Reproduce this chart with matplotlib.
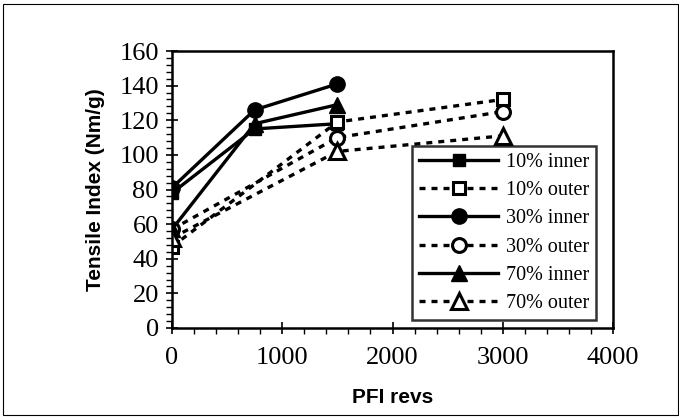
import matplotlib
matplotlib.use("Agg")
import matplotlib.pyplot as plt
from matplotlib.patches import Rectangle
from matplotlib.ticker import MultipleLocator

# PFI revs
x_inner = [0, 750, 1500]
x_outer = [0, 1500, 3000]

# tensile index (Nm/g)
ti_10_inner = [78, 115, 118]
ti_10_outer = [47, 119, 132]
ti_30_inner = [81, 126, 141]
ti_30_outer = [57, 110, 125]
ti_70_inner = [57, 118, 129]
ti_70_outer = [52, 102, 111]

labels = ["10% inner", "10% outer", "30% inner", "30% outer", "70% inner", "70% outer"]

serif = "Liberation Serif"
sans = "Liberation Sans"

fig = plt.figure(figsize=(6.79, 4.20), dpi=100)
ax = fig.add_axes([172 / 679, 1 - 328 / 420, 441 / 679, 277 / 420])

dash = (0, (1.8, 1.8))
ms = 10
lw = 2.4

ax.plot(x_inner, ti_10_inner, color="black", lw=lw, marker="s", ms=ms - 1, mfc="black", label=labels[0])
ax.plot(x_outer, ti_10_outer, color="black", lw=lw, ls=dash, marker="s", ms=ms - 1, mfc="white", mew=2.2, label=labels[1])
ax.plot(x_inner, ti_30_inner, color="black", lw=lw, marker="o", ms=ms + 1, mfc="black", label=labels[2])
ax.plot(x_outer, ti_30_outer, color="black", lw=lw, ls=dash, marker="o", ms=ms, mfc="white", mew=2.2, label=labels[3])
ax.plot(x_inner, ti_70_inner, color="black", lw=lw, marker="^", ms=ms + 1, mfc="black", label=labels[4])
ax.plot(x_outer, ti_70_outer, color="black", lw=lw, ls=dash, marker="^", ms=ms + 1, mfc="white", mew=2.2, label=labels[5])

ax.set_xlim(0, 4000)
ax.set_ylim(0, 160)
ax.xaxis.set_major_locator(MultipleLocator(1000))
ax.xaxis.set_minor_locator(MultipleLocator(200))
ax.yaxis.set_major_locator(MultipleLocator(20))
ax.yaxis.set_minor_locator(MultipleLocator(4))
ax.tick_params(which="major", direction="inout", length=9, width=1.2, labelsize=19, pad=5)
ax.tick_params(axis="x", which="major", pad=9)
ax.tick_params(which="minor", direction="out", length=4, width=1)
for t in ax.get_xticklabels() + ax.get_yticklabels():
    t.set_family(serif)
for s in ax.spines.values():
    s.set_linewidth(1.8)

ax.set_xlabel("PFI revs", fontfamily=sans, fontweight="bold", fontsize=15, labelpad=14)
ax.set_ylabel("Tensile Index (Nm/g)", fontfamily=sans, fontweight="bold", fontsize=15, labelpad=10)

leg = ax.legend(loc="lower right", bbox_to_anchor=(0.962, 0.029), prop={"family": serif, "size": 14.5},
                frameon=True, fancybox=False, edgecolor="black", handlelength=3.9,
                borderpad=0.35, labelspacing=0.45, handletextpad=0.4, borderaxespad=0)
leg.get_frame().set_linewidth(1.8)

# thin frame round the whole chart
fig.patches.append(Rectangle((0.004, 0.012), 0.994, 0.978, transform=fig.transFigure,
                             fill=False, edgecolor="black", lw=0.8))

fig.savefig("out.png", dpi=100)
